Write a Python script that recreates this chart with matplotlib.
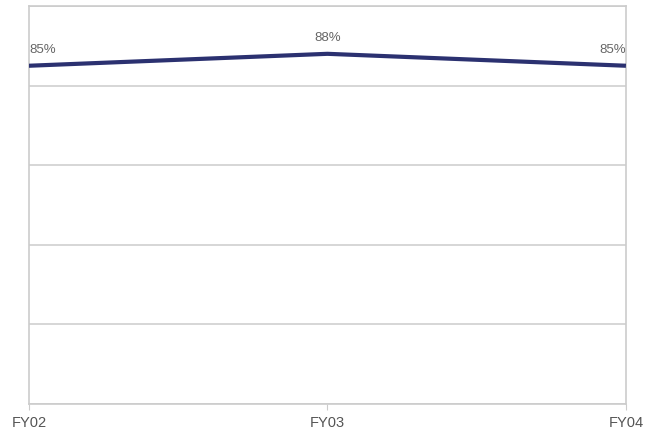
import matplotlib
matplotlib.use("Agg")
import matplotlib.pyplot as plt

plt.rcParams['font.family'] = ['Liberation Sans', 'DejaVu Sans']

years = ["FY02", "FY03", "FY04"]
rates = [85, 88, 85]
rate_labels = ["85%", "88%", "85%"]

fig = plt.figure(figsize=(6.54, 4.33), dpi=100)
ax = fig.add_axes([0.0443, 0.067, 0.9128, 0.919])

x = list(range(len(years)))
ax.plot(x, rates, color="#2b3170", lw=3.0, solid_capstyle="butt", zorder=3)

# value labels above the line
aligns = ["left", "center", "right"]
for xi, yi, lab, ha in zip(x, rates, rate_labels, aligns):
    ax.annotate(lab, (xi, yi), xytext=(0, 7), textcoords="offset points",
                ha=ha, va="bottom", fontsize=9.5, color="#666666")

ax.set_xlim(0, 2)
ax.set_ylim(0, 100)
ax.set_yticks([0, 20, 40, 60, 80, 100])
ax.set_yticklabels([])
ax.tick_params(axis="y", length=0)
ax.set_xticks(x)
ax.set_xticklabels(years, fontsize=10.5, color="#555555")
ax.tick_params(axis="x", length=4, color="#cccccc", pad=5)
ax.grid(axis="y", color="#cfcfcf", lw=1.2)
for s in ax.spines.values():
    s.set_color("#cccccc")
    s.set_linewidth(1.2)

fig.savefig("out.png", dpi=100)
